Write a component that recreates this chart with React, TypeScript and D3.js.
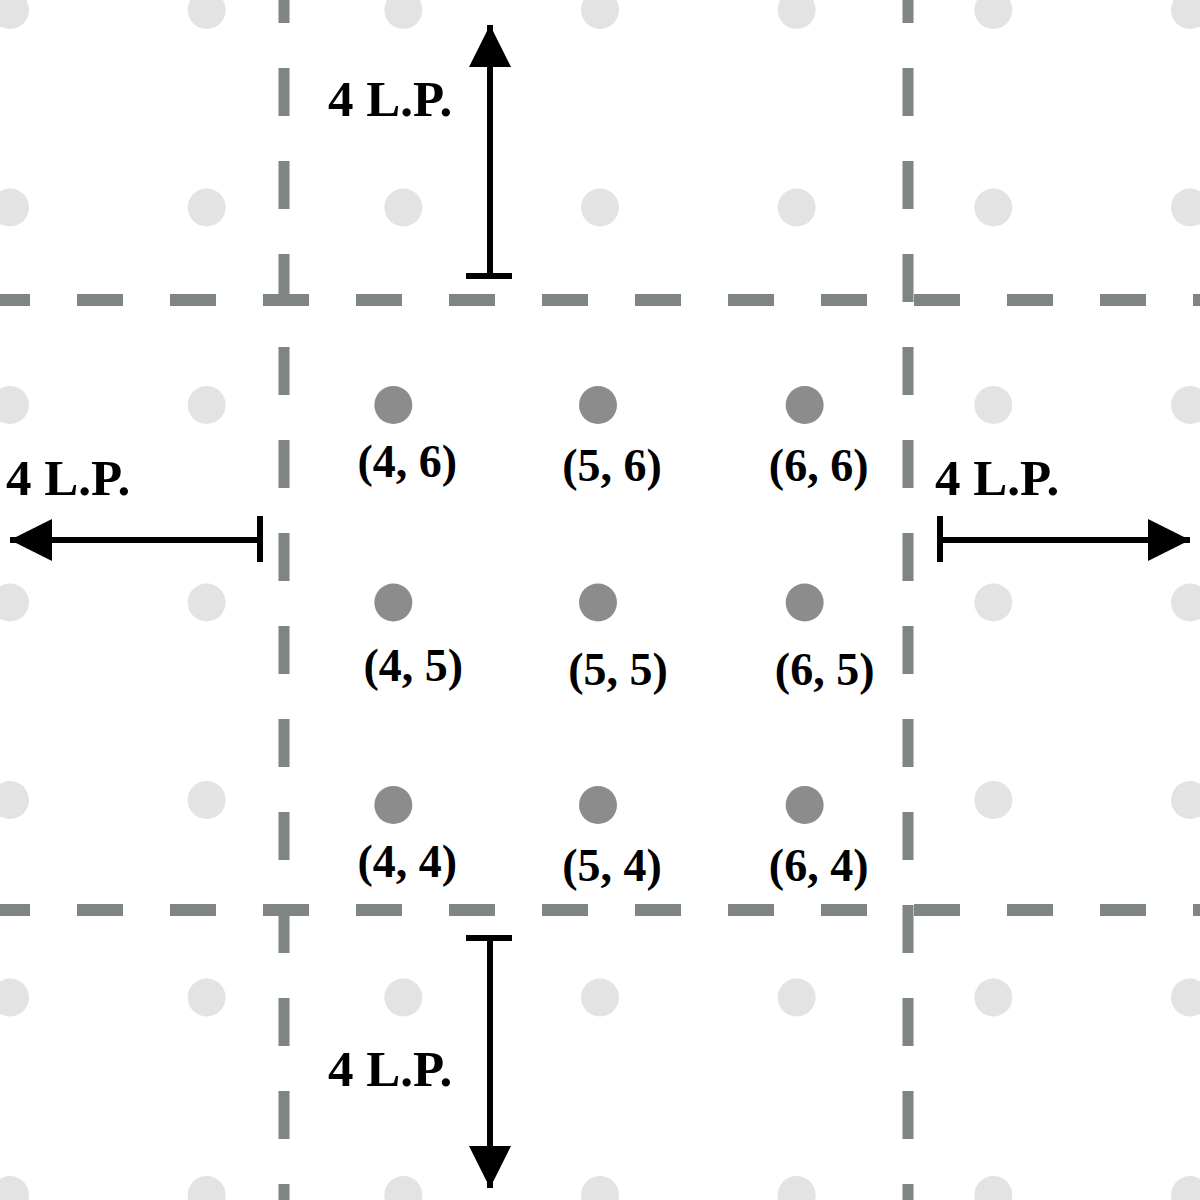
import React from "react";
import * as d3 from "d3";

const gridIdx = [1, 2, 3, 4, 5, 6, 7];
const focusX = [4, 5, 6];
const focusY = [6, 5, 4];
const arrowLabel = "4 L.P.";

export default function App() {
  const W = 1200;
  const sx = d3.scaleLinear().domain([1, 7]).range([10, 1190]);
  const sy = d3.scaleLinear().domain([1, 7]).range([10, 1195]);
  const grey = "#7f8580";
  const font = "'Liberation Serif', 'Times New Roman', serif";
  const hLines = [300, 910];
  const vLines = [284, 908];
  const pts: [number, number][] = [];
  gridIdx.forEach((i) => gridIdx.forEach((j) => pts.push([i, j])));
  const isFocus = (i: number, j: number) => i >= 3 && i <= 5 && j >= 3 && j <= 5;
  const colOff = [-10, -2, 8];
  return (
    <svg width={W} height={W} style={{ position: "absolute", left: 0, top: 0, background: "#fff" }}>
      <defs>
        <marker id="ah" viewBox="0 0 10 10" refX="10" refY="5" markerWidth="8" markerHeight="7" markerUnits="strokeWidth" orient="auto">
          <path d="M0,0 L10,5 L0,10 z" fill="#000" />
        </marker>
      </defs>
      {pts.filter(([i, j]) => !isFocus(i, j)).map(([i, j]) => (
        <circle key={`l${i}-${j}`} cx={sx(i)} cy={sy(j)} r={19} fill="#e3e3e3" />
      ))}
      {vLines.map((x) => (
        <line key={`v${x}`} x1={x} x2={x} y1={0} y2={W} stroke={grey} strokeWidth={11} strokeDasharray="48 45" strokeDashoffset={25} />
      ))}
      {hLines.map((y) => (
        <line key={`h${y}`} x1={0} x2={W} y1={y} y2={y} stroke={grey} strokeWidth={12} strokeDasharray="46 47" strokeDashoffset={16} />
      ))}
      {focusY.map((yv, r) =>
        focusX.map((xv, c) => {
          const cx = sx(c + 3) + colOff[c];
          const cy = sy(r + 3) + (r === 2 ? 5 : 0);
          return (
            <g key={`f${xv}-${yv}`}>
              <circle cx={cx} cy={cy} r={19} fill="#8c8c8c" />
              <text x={cx + 14 + (r === 1 ? 6 : 0)} y={cy + 76 + (r === 1 ? 6 : 0) + (c === 0 ? -4 : 0)} textAnchor="middle" fontFamily={font} fontWeight="bold" fontSize={46}>
                ({xv}, {yv})
              </text>
            </g>
          );
        })
      )}
      <line x1={490} y1={276} x2={490} y2={25} stroke="#000" strokeWidth={6} markerEnd="url(#ah)" />
      <line x1={466} x2={512} y1={276} y2={276} stroke="#000" strokeWidth={6} />
      <line x1={490} y1={938} x2={490} y2={1188} stroke="#000" strokeWidth={6} markerEnd="url(#ah)" />
      <line x1={466} x2={512} y1={938} y2={938} stroke="#000" strokeWidth={6} />
      <line x1={260} y1={540} x2={10} y2={540} stroke="#000" strokeWidth={6} markerEnd="url(#ah)" />
      <line x1={260} x2={260} y1={516} y2={562} stroke="#000" strokeWidth={6} />
      <line x1={940} y1={540} x2={1190} y2={540} stroke="#000" strokeWidth={6} markerEnd="url(#ah)" />
      <line x1={940} x2={940} y1={516} y2={562} stroke="#000" strokeWidth={6} />
      {[
        [328, 116],
        [6, 495],
        [935, 495],
        [328, 1086],
      ].map(([x, y], k) => (
        <text key={k} x={x} y={y} fontFamily={font} fontWeight="bold" fontSize={51}>
          {arrowLabel}
        </text>
      ))}
    </svg>
  );
}
